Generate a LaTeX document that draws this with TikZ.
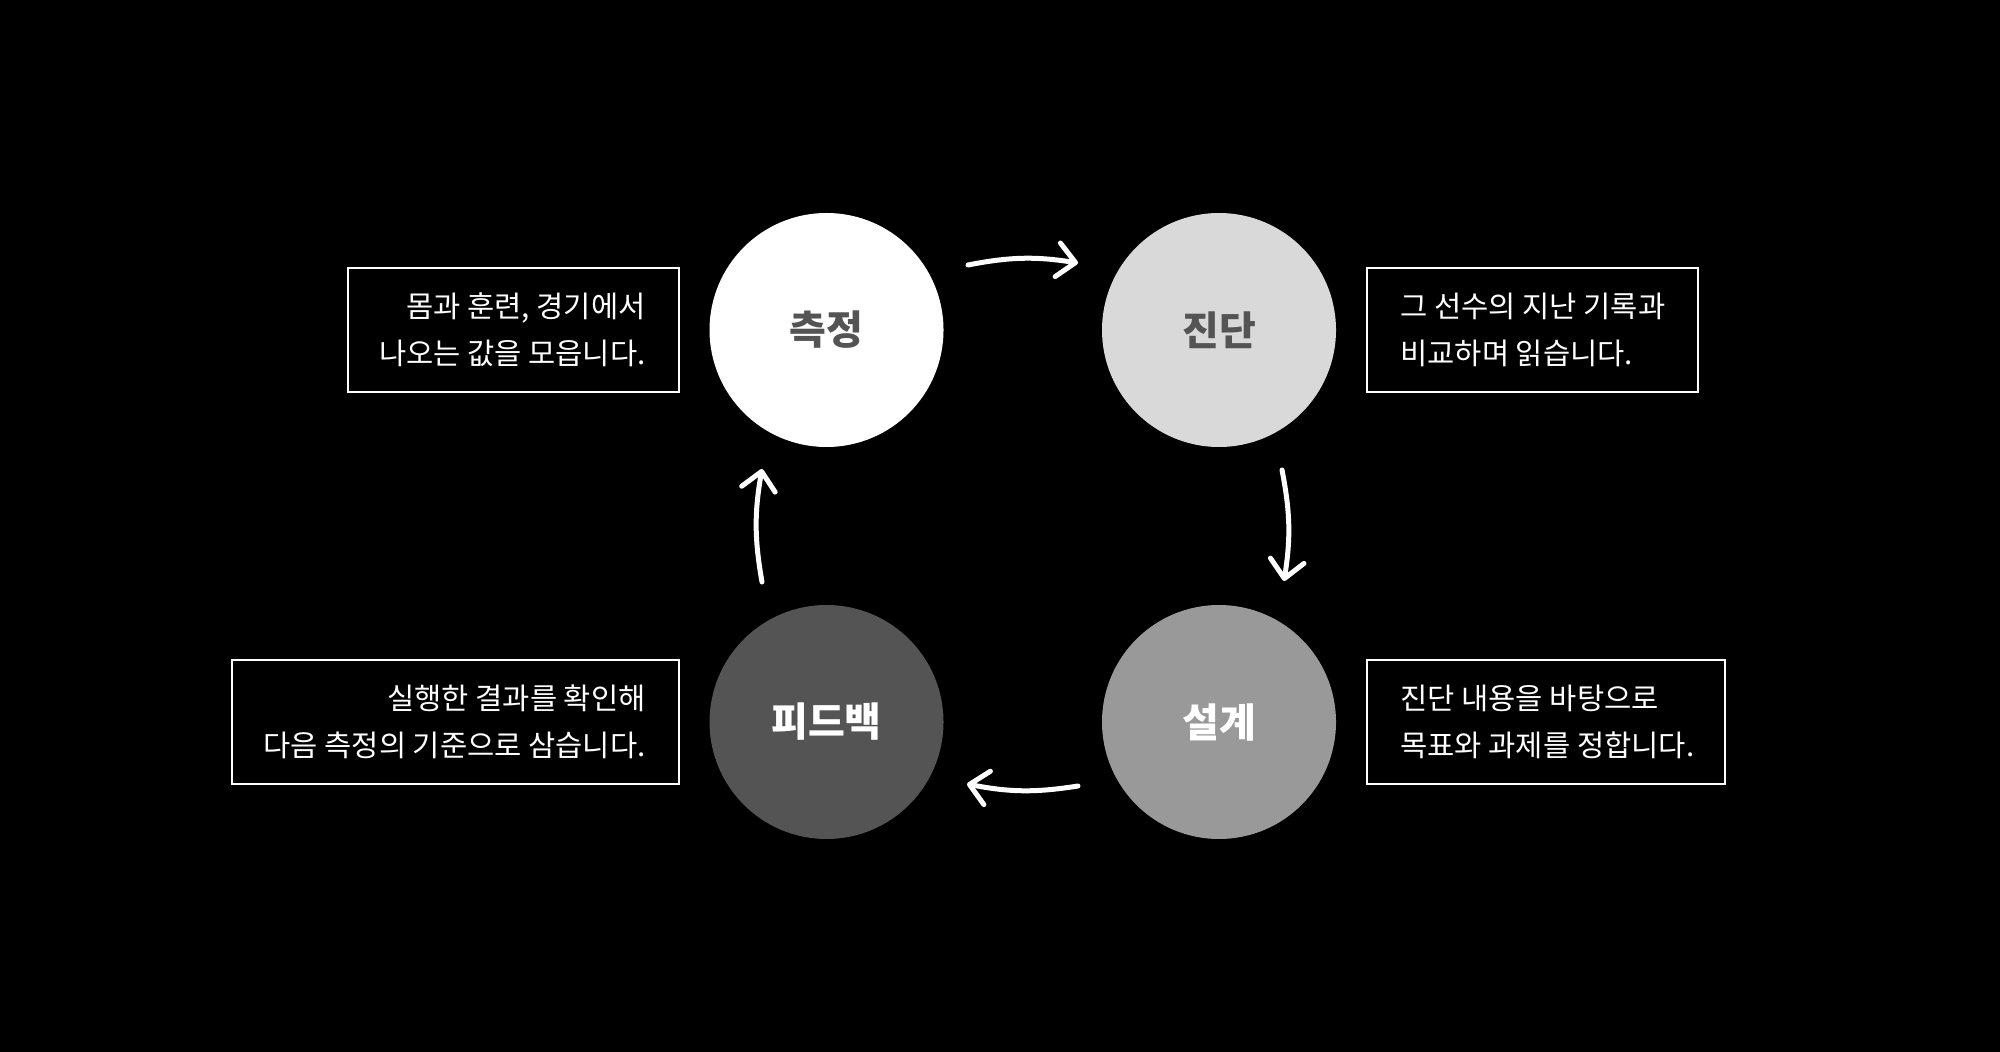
\documentclass[tikz,border=0pt]{standalone}
\usepackage{fontspec}
\setmainfont{Noto Sans CJK KR}
\usetikzlibrary{arrows.meta,calc}
\begin{document}
\begin{tikzpicture}[x=0.5pt,y=-0.5pt,
  stage/.style={circle,minimum size=117pt,inner sep=0pt,font=\fontsize{20pt}{22pt}\selectfont\bfseries},
  infobox/.style={draw=white,line width=1pt,minimum height=62pt,inner sep=0pt},
  infotext/.style={text=white,inner sep=0pt,font=\fontsize{14.8pt}{23.5pt}\selectfont},
  flow/.style={draw=white,line width=2.5pt,line cap=round,-{Straight Barb[length=9pt,width=17pt,round]},bend left=10}]
\fill[black] (0,0) rectangle (2000,1052);
\useasboundingbox (0,0) rectangle (2000,1052);
% stages
\node[stage,fill=white,text=black!67] (m) at (826.5,330) {측정};
\node[stage,fill=black!15,text=black!67] (d) at (1219,330) {진단};
\node[stage,fill=black!40,text=white] (s) at (1219,722) {설계};
\node[stage,fill=black!67,text=white] (f) at (826.5,722) {피드백};
% boxes
\node[infobox,minimum width=165.5pt] (b1) at (513.5,330) {};
\node[infotext,anchor=east,align=right] (t1) at ($(b1.east)+(-17pt,0)$) {몸과 훈련, 경기에서\\나오는 값을 모읍니다.};
\node[infobox,minimum width=165.5pt] (b2) at (1532.5,330) {};
\node[infotext,anchor=west,align=left] (t2) at ($(b2.west)+(17pt,0)$) {그 선수의 지난 기록과\\비교하며 읽습니다.};
\node[infobox,minimum width=179pt] (b4) at (1546,722) {};
\node[infotext,anchor=west,align=left] (t4) at ($(b4.west)+(17pt,0)$) {진단 내용을 바탕으로\\목표와 과제를 정합니다.};
\node[infobox,minimum width=223.5pt] (b3) at (455.5,722) {};
\node[infotext,anchor=east,align=right] (t3) at ($(b3.east)+(-17pt,0)$) {실행한 결과를 확인해\\다음 측정의 기준으로 삼습니다.};
% arrow ends
\coordinate (a1s) at (968,265);
\coordinate (a1e) at (1078,263);
\coordinate (a2s) at (1282,470);
\coordinate (a2e) at (1284,581);
\coordinate (a3s) at (1078,786);
\coordinate (a3e) at (967,784);
\coordinate (a4s) at (762,582);
\coordinate (a4e) at (762,469);
\draw[flow] (a1s) to (a1e);
\draw[flow] (a2s) to (a2e);
\draw[flow] (a3s) to (a3e);
\draw[flow] (a4s) to (a4e);
\end{tikzpicture}
\end{document}
